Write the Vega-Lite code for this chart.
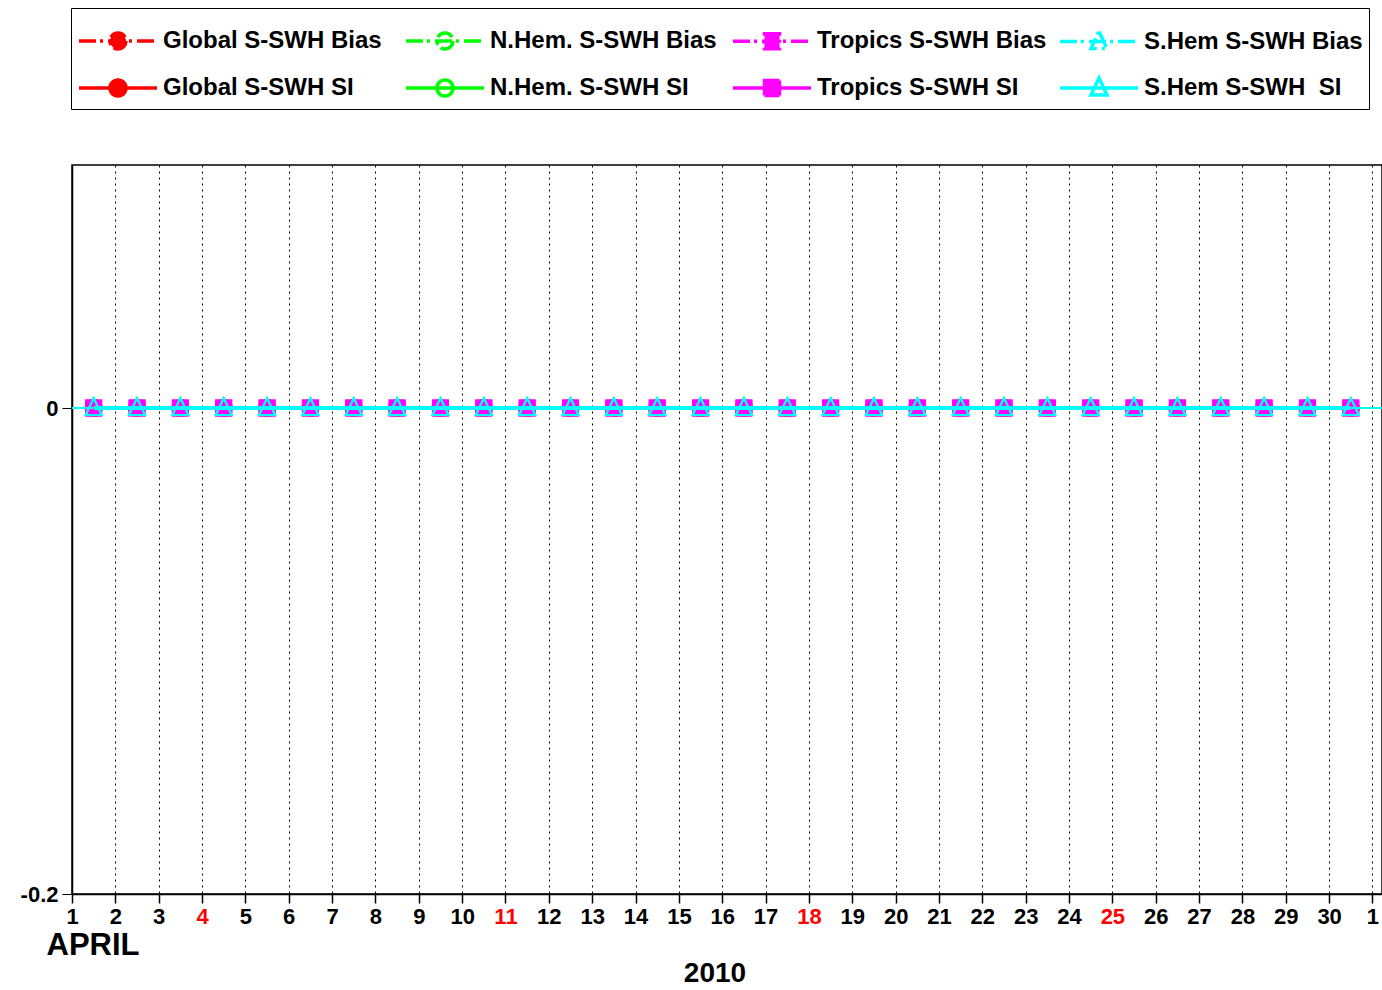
{
"$schema": "https://vega.github.io/schema/vega-lite/v6.json",
"width": 1310,
"height": 729,
"autosize": {"type": "none"},
"padding": {"left": 72, "top": 165, "right": 0, "bottom": 96},
"background": "white",
"config": {
  "font": "Liberation Sans",
  "view": {"stroke": "black", "strokeWidth": 1.5}
},
"title": {"text": "2010", "orient": "bottom", "frame": "group", "anchor": "middle", "offset": 0, "dx": -12, "fontSize": 28, "fontWeight": "bold", "color": "black", "font": "Liberation Sans"},
"data": {"values": [
{"series":"Global S-SWH Bias","day":1.5,"value":0},{"series":"Global S-SWH Bias","day":2.5,"value":0},{"series":"Global S-SWH Bias","day":3.5,"value":0},{"series":"Global S-SWH Bias","day":4.5,"value":0},{"series":"Global S-SWH Bias","day":5.5,"value":0},{"series":"Global S-SWH Bias","day":6.5,"value":0},{"series":"Global S-SWH Bias","day":7.5,"value":0},{"series":"Global S-SWH Bias","day":8.5,"value":0},{"series":"Global S-SWH Bias","day":9.5,"value":0},{"series":"Global S-SWH Bias","day":10.5,"value":0},{"series":"Global S-SWH Bias","day":11.5,"value":0},{"series":"Global S-SWH Bias","day":12.5,"value":0},{"series":"Global S-SWH Bias","day":13.5,"value":0},{"series":"Global S-SWH Bias","day":14.5,"value":0},{"series":"Global S-SWH Bias","day":15.5,"value":0},{"series":"Global S-SWH Bias","day":16.5,"value":0},{"series":"Global S-SWH Bias","day":17.5,"value":0},{"series":"Global S-SWH Bias","day":18.5,"value":0},{"series":"Global S-SWH Bias","day":19.5,"value":0},{"series":"Global S-SWH Bias","day":20.5,"value":0},{"series":"Global S-SWH Bias","day":21.5,"value":0},{"series":"Global S-SWH Bias","day":22.5,"value":0},{"series":"Global S-SWH Bias","day":23.5,"value":0},{"series":"Global S-SWH Bias","day":24.5,"value":0},{"series":"Global S-SWH Bias","day":25.5,"value":0},{"series":"Global S-SWH Bias","day":26.5,"value":0},{"series":"Global S-SWH Bias","day":27.5,"value":0},{"series":"Global S-SWH Bias","day":28.5,"value":0},{"series":"Global S-SWH Bias","day":29.5,"value":0},{"series":"Global S-SWH Bias","day":30.5,"value":0},
{"series":"Global S-SWH SI","day":1.5,"value":0},{"series":"Global S-SWH SI","day":2.5,"value":0},{"series":"Global S-SWH SI","day":3.5,"value":0},{"series":"Global S-SWH SI","day":4.5,"value":0},{"series":"Global S-SWH SI","day":5.5,"value":0},{"series":"Global S-SWH SI","day":6.5,"value":0},{"series":"Global S-SWH SI","day":7.5,"value":0},{"series":"Global S-SWH SI","day":8.5,"value":0},{"series":"Global S-SWH SI","day":9.5,"value":0},{"series":"Global S-SWH SI","day":10.5,"value":0},{"series":"Global S-SWH SI","day":11.5,"value":0},{"series":"Global S-SWH SI","day":12.5,"value":0},{"series":"Global S-SWH SI","day":13.5,"value":0},{"series":"Global S-SWH SI","day":14.5,"value":0},{"series":"Global S-SWH SI","day":15.5,"value":0},{"series":"Global S-SWH SI","day":16.5,"value":0},{"series":"Global S-SWH SI","day":17.5,"value":0},{"series":"Global S-SWH SI","day":18.5,"value":0},{"series":"Global S-SWH SI","day":19.5,"value":0},{"series":"Global S-SWH SI","day":20.5,"value":0},{"series":"Global S-SWH SI","day":21.5,"value":0},{"series":"Global S-SWH SI","day":22.5,"value":0},{"series":"Global S-SWH SI","day":23.5,"value":0},{"series":"Global S-SWH SI","day":24.5,"value":0},{"series":"Global S-SWH SI","day":25.5,"value":0},{"series":"Global S-SWH SI","day":26.5,"value":0},{"series":"Global S-SWH SI","day":27.5,"value":0},{"series":"Global S-SWH SI","day":28.5,"value":0},{"series":"Global S-SWH SI","day":29.5,"value":0},{"series":"Global S-SWH SI","day":30.5,"value":0},
{"series":"N.Hem. S-SWH Bias","day":1.5,"value":0},{"series":"N.Hem. S-SWH Bias","day":2.5,"value":0},{"series":"N.Hem. S-SWH Bias","day":3.5,"value":0},{"series":"N.Hem. S-SWH Bias","day":4.5,"value":0},{"series":"N.Hem. S-SWH Bias","day":5.5,"value":0},{"series":"N.Hem. S-SWH Bias","day":6.5,"value":0},{"series":"N.Hem. S-SWH Bias","day":7.5,"value":0},{"series":"N.Hem. S-SWH Bias","day":8.5,"value":0},{"series":"N.Hem. S-SWH Bias","day":9.5,"value":0},{"series":"N.Hem. S-SWH Bias","day":10.5,"value":0},{"series":"N.Hem. S-SWH Bias","day":11.5,"value":0},{"series":"N.Hem. S-SWH Bias","day":12.5,"value":0},{"series":"N.Hem. S-SWH Bias","day":13.5,"value":0},{"series":"N.Hem. S-SWH Bias","day":14.5,"value":0},{"series":"N.Hem. S-SWH Bias","day":15.5,"value":0},{"series":"N.Hem. S-SWH Bias","day":16.5,"value":0},{"series":"N.Hem. S-SWH Bias","day":17.5,"value":0},{"series":"N.Hem. S-SWH Bias","day":18.5,"value":0},{"series":"N.Hem. S-SWH Bias","day":19.5,"value":0},{"series":"N.Hem. S-SWH Bias","day":20.5,"value":0},{"series":"N.Hem. S-SWH Bias","day":21.5,"value":0},{"series":"N.Hem. S-SWH Bias","day":22.5,"value":0},{"series":"N.Hem. S-SWH Bias","day":23.5,"value":0},{"series":"N.Hem. S-SWH Bias","day":24.5,"value":0},{"series":"N.Hem. S-SWH Bias","day":25.5,"value":0},{"series":"N.Hem. S-SWH Bias","day":26.5,"value":0},{"series":"N.Hem. S-SWH Bias","day":27.5,"value":0},{"series":"N.Hem. S-SWH Bias","day":28.5,"value":0},{"series":"N.Hem. S-SWH Bias","day":29.5,"value":0},{"series":"N.Hem. S-SWH Bias","day":30.5,"value":0},
{"series":"N.Hem. S-SWH SI","day":1.5,"value":0},{"series":"N.Hem. S-SWH SI","day":2.5,"value":0},{"series":"N.Hem. S-SWH SI","day":3.5,"value":0},{"series":"N.Hem. S-SWH SI","day":4.5,"value":0},{"series":"N.Hem. S-SWH SI","day":5.5,"value":0},{"series":"N.Hem. S-SWH SI","day":6.5,"value":0},{"series":"N.Hem. S-SWH SI","day":7.5,"value":0},{"series":"N.Hem. S-SWH SI","day":8.5,"value":0},{"series":"N.Hem. S-SWH SI","day":9.5,"value":0},{"series":"N.Hem. S-SWH SI","day":10.5,"value":0},{"series":"N.Hem. S-SWH SI","day":11.5,"value":0},{"series":"N.Hem. S-SWH SI","day":12.5,"value":0},{"series":"N.Hem. S-SWH SI","day":13.5,"value":0},{"series":"N.Hem. S-SWH SI","day":14.5,"value":0},{"series":"N.Hem. S-SWH SI","day":15.5,"value":0},{"series":"N.Hem. S-SWH SI","day":16.5,"value":0},{"series":"N.Hem. S-SWH SI","day":17.5,"value":0},{"series":"N.Hem. S-SWH SI","day":18.5,"value":0},{"series":"N.Hem. S-SWH SI","day":19.5,"value":0},{"series":"N.Hem. S-SWH SI","day":20.5,"value":0},{"series":"N.Hem. S-SWH SI","day":21.5,"value":0},{"series":"N.Hem. S-SWH SI","day":22.5,"value":0},{"series":"N.Hem. S-SWH SI","day":23.5,"value":0},{"series":"N.Hem. S-SWH SI","day":24.5,"value":0},{"series":"N.Hem. S-SWH SI","day":25.5,"value":0},{"series":"N.Hem. S-SWH SI","day":26.5,"value":0},{"series":"N.Hem. S-SWH SI","day":27.5,"value":0},{"series":"N.Hem. S-SWH SI","day":28.5,"value":0},{"series":"N.Hem. S-SWH SI","day":29.5,"value":0},{"series":"N.Hem. S-SWH SI","day":30.5,"value":0},
{"series":"Tropics S-SWH Bias","day":1.5,"value":0},{"series":"Tropics S-SWH Bias","day":2.5,"value":0},{"series":"Tropics S-SWH Bias","day":3.5,"value":0},{"series":"Tropics S-SWH Bias","day":4.5,"value":0},{"series":"Tropics S-SWH Bias","day":5.5,"value":0},{"series":"Tropics S-SWH Bias","day":6.5,"value":0},{"series":"Tropics S-SWH Bias","day":7.5,"value":0},{"series":"Tropics S-SWH Bias","day":8.5,"value":0},{"series":"Tropics S-SWH Bias","day":9.5,"value":0},{"series":"Tropics S-SWH Bias","day":10.5,"value":0},{"series":"Tropics S-SWH Bias","day":11.5,"value":0},{"series":"Tropics S-SWH Bias","day":12.5,"value":0},{"series":"Tropics S-SWH Bias","day":13.5,"value":0},{"series":"Tropics S-SWH Bias","day":14.5,"value":0},{"series":"Tropics S-SWH Bias","day":15.5,"value":0},{"series":"Tropics S-SWH Bias","day":16.5,"value":0},{"series":"Tropics S-SWH Bias","day":17.5,"value":0},{"series":"Tropics S-SWH Bias","day":18.5,"value":0},{"series":"Tropics S-SWH Bias","day":19.5,"value":0},{"series":"Tropics S-SWH Bias","day":20.5,"value":0},{"series":"Tropics S-SWH Bias","day":21.5,"value":0},{"series":"Tropics S-SWH Bias","day":22.5,"value":0},{"series":"Tropics S-SWH Bias","day":23.5,"value":0},{"series":"Tropics S-SWH Bias","day":24.5,"value":0},{"series":"Tropics S-SWH Bias","day":25.5,"value":0},{"series":"Tropics S-SWH Bias","day":26.5,"value":0},{"series":"Tropics S-SWH Bias","day":27.5,"value":0},{"series":"Tropics S-SWH Bias","day":28.5,"value":0},{"series":"Tropics S-SWH Bias","day":29.5,"value":0},{"series":"Tropics S-SWH Bias","day":30.5,"value":0},
{"series":"Tropics S-SWH SI","day":1.5,"value":0},{"series":"Tropics S-SWH SI","day":2.5,"value":0},{"series":"Tropics S-SWH SI","day":3.5,"value":0},{"series":"Tropics S-SWH SI","day":4.5,"value":0},{"series":"Tropics S-SWH SI","day":5.5,"value":0},{"series":"Tropics S-SWH SI","day":6.5,"value":0},{"series":"Tropics S-SWH SI","day":7.5,"value":0},{"series":"Tropics S-SWH SI","day":8.5,"value":0},{"series":"Tropics S-SWH SI","day":9.5,"value":0},{"series":"Tropics S-SWH SI","day":10.5,"value":0},{"series":"Tropics S-SWH SI","day":11.5,"value":0},{"series":"Tropics S-SWH SI","day":12.5,"value":0},{"series":"Tropics S-SWH SI","day":13.5,"value":0},{"series":"Tropics S-SWH SI","day":14.5,"value":0},{"series":"Tropics S-SWH SI","day":15.5,"value":0},{"series":"Tropics S-SWH SI","day":16.5,"value":0},{"series":"Tropics S-SWH SI","day":17.5,"value":0},{"series":"Tropics S-SWH SI","day":18.5,"value":0},{"series":"Tropics S-SWH SI","day":19.5,"value":0},{"series":"Tropics S-SWH SI","day":20.5,"value":0},{"series":"Tropics S-SWH SI","day":21.5,"value":0},{"series":"Tropics S-SWH SI","day":22.5,"value":0},{"series":"Tropics S-SWH SI","day":23.5,"value":0},{"series":"Tropics S-SWH SI","day":24.5,"value":0},{"series":"Tropics S-SWH SI","day":25.5,"value":0},{"series":"Tropics S-SWH SI","day":26.5,"value":0},{"series":"Tropics S-SWH SI","day":27.5,"value":0},{"series":"Tropics S-SWH SI","day":28.5,"value":0},{"series":"Tropics S-SWH SI","day":29.5,"value":0},{"series":"Tropics S-SWH SI","day":30.5,"value":0},
{"series":"S.Hem S-SWH Bias","day":1.5,"value":0},{"series":"S.Hem S-SWH Bias","day":2.5,"value":0},{"series":"S.Hem S-SWH Bias","day":3.5,"value":0},{"series":"S.Hem S-SWH Bias","day":4.5,"value":0},{"series":"S.Hem S-SWH Bias","day":5.5,"value":0},{"series":"S.Hem S-SWH Bias","day":6.5,"value":0},{"series":"S.Hem S-SWH Bias","day":7.5,"value":0},{"series":"S.Hem S-SWH Bias","day":8.5,"value":0},{"series":"S.Hem S-SWH Bias","day":9.5,"value":0},{"series":"S.Hem S-SWH Bias","day":10.5,"value":0},{"series":"S.Hem S-SWH Bias","day":11.5,"value":0},{"series":"S.Hem S-SWH Bias","day":12.5,"value":0},{"series":"S.Hem S-SWH Bias","day":13.5,"value":0},{"series":"S.Hem S-SWH Bias","day":14.5,"value":0},{"series":"S.Hem S-SWH Bias","day":15.5,"value":0},{"series":"S.Hem S-SWH Bias","day":16.5,"value":0},{"series":"S.Hem S-SWH Bias","day":17.5,"value":0},{"series":"S.Hem S-SWH Bias","day":18.5,"value":0},{"series":"S.Hem S-SWH Bias","day":19.5,"value":0},{"series":"S.Hem S-SWH Bias","day":20.5,"value":0},{"series":"S.Hem S-SWH Bias","day":21.5,"value":0},{"series":"S.Hem S-SWH Bias","day":22.5,"value":0},{"series":"S.Hem S-SWH Bias","day":23.5,"value":0},{"series":"S.Hem S-SWH Bias","day":24.5,"value":0},{"series":"S.Hem S-SWH Bias","day":25.5,"value":0},{"series":"S.Hem S-SWH Bias","day":26.5,"value":0},{"series":"S.Hem S-SWH Bias","day":27.5,"value":0},{"series":"S.Hem S-SWH Bias","day":28.5,"value":0},{"series":"S.Hem S-SWH Bias","day":29.5,"value":0},{"series":"S.Hem S-SWH Bias","day":30.5,"value":0},
{"series":"S.Hem S-SWH  SI","day":1.5,"value":0},{"series":"S.Hem S-SWH  SI","day":2.5,"value":0},{"series":"S.Hem S-SWH  SI","day":3.5,"value":0},{"series":"S.Hem S-SWH  SI","day":4.5,"value":0},{"series":"S.Hem S-SWH  SI","day":5.5,"value":0},{"series":"S.Hem S-SWH  SI","day":6.5,"value":0},{"series":"S.Hem S-SWH  SI","day":7.5,"value":0},{"series":"S.Hem S-SWH  SI","day":8.5,"value":0},{"series":"S.Hem S-SWH  SI","day":9.5,"value":0},{"series":"S.Hem S-SWH  SI","day":10.5,"value":0},{"series":"S.Hem S-SWH  SI","day":11.5,"value":0},{"series":"S.Hem S-SWH  SI","day":12.5,"value":0},{"series":"S.Hem S-SWH  SI","day":13.5,"value":0},{"series":"S.Hem S-SWH  SI","day":14.5,"value":0},{"series":"S.Hem S-SWH  SI","day":15.5,"value":0},{"series":"S.Hem S-SWH  SI","day":16.5,"value":0},{"series":"S.Hem S-SWH  SI","day":17.5,"value":0},{"series":"S.Hem S-SWH  SI","day":18.5,"value":0},{"series":"S.Hem S-SWH  SI","day":19.5,"value":0},{"series":"S.Hem S-SWH  SI","day":20.5,"value":0},{"series":"S.Hem S-SWH  SI","day":21.5,"value":0},{"series":"S.Hem S-SWH  SI","day":22.5,"value":0},{"series":"S.Hem S-SWH  SI","day":23.5,"value":0},{"series":"S.Hem S-SWH  SI","day":24.5,"value":0},{"series":"S.Hem S-SWH  SI","day":25.5,"value":0},{"series":"S.Hem S-SWH  SI","day":26.5,"value":0},{"series":"S.Hem S-SWH  SI","day":27.5,"value":0},{"series":"S.Hem S-SWH  SI","day":28.5,"value":0},{"series":"S.Hem S-SWH  SI","day":29.5,"value":0},{"series":"S.Hem S-SWH  SI","day":30.5,"value":0}
]},
"encoding": {
  "x": {"field": "day", "type": "quantitative",
    "scale": {"domain": [1, 31.22], "nice": false, "zero": false},
    "axis": {
      "values": [1,2,3,4,5,6,7,8,9,10,11,12,13,14,15,16,17,18,19,20,21,22,23,24,25,26,27,28,29,30,31],
      "labelExpr": "datum.value > 30 ? '1' : datum.label",
      "labelColor": {"condition": {"test": "indexof([4,11,18,25], datum.value) >= 0", "value": "#ff0000"}, "value": "black"},
      "labelFontSize": 22, "labelFontWeight": "bold", "labelFont": "Liberation Sans", "labelPadding": 3,
      "labelFlush": false, "labelOverlap": false,
      "tickSize": 9, "tickColor": "black", "tickWidth": 1.5,
      "domainColor": "black", "domainWidth": 1.5,
      "grid": true, "gridColor": "black", "gridDash": [2, 4], "gridWidth": 1, "gridOpacity": 1,
      "title": "APRIL", "titleFontSize": 31, "titleFontWeight": "bold", "titleFont": "Liberation Sans", "titleColor": "black",
      "titleAnchor": "start", "titleAlign": "left", "titleBaseline": "alphabetic", "titleX": -26, "titleY": 60
    }
  },
  "y": {"field": "value", "type": "quantitative",
    "scale": {"domain": [-0.2, 0.1], "nice": false, "zero": false},
    "axis": {
      "values": [-0.2, 0],
      "labelExpr": "toString(datum.value)",
      "labelFontSize": 22, "labelFontWeight": "bold", "labelFont": "Liberation Sans", "labelColor": "black", "labelPadding": 4,
      "labelFlush": false,
      "tickSize": 10, "tickColor": "black", "tickWidth": 1,
      "domainColor": "black", "domainWidth": 1.5,
      "grid": true, "gridColor": "black", "gridDash": [8, 4], "gridWidth": 1, "gridOpacity": 1,
      "title": null
    }
  }
},
"layer": [
  {"mark": {"type": "point", "filled": false, "size": 2500, "strokeWidth": 2, "opacity": 1, "clip": true},
   "encoding": {
     "color": {"field": "series", "type": "nominal",
       "scale": {"domain": ["Global S-SWH Bias","N.Hem. S-SWH Bias","Tropics S-SWH Bias","S.Hem S-SWH Bias","Global S-SWH SI","N.Hem. S-SWH SI","Tropics S-SWH SI","S.Hem S-SWH  SI"],
                 "range": ["#ff0000","#00ff00","#ff00ff","#00ffff","#ff0000","#00ff00","#ff00ff","#00ffff"]},
       "legend": {
         "orient": "none", "legendX": -1, "legendY": -157, "direction": "horizontal", "columns": 4, "title": null,
         "gridAlign": "all", "columnPadding": 6, "rowPadding": 5, "padding": 6,
         "strokeColor": "black", "fillColor": "white",
         "symbolSize": 2500, "symbolOffset": 14, "labelOffset": 18, "symbolStrokeWidth": 3.5, "symbolOpacity": 1,
         "labelFont": "Liberation Sans", "labelFontWeight": "bold", "labelFontSize": 24, "labelColor": "black", "labelLimit": 400,
         "labelExpr": "replace(datum.label, '  ', '\u00a0 ')"
       }
     },
     "fill": {"field": "series", "type": "nominal",
       "scale": {"domain": ["Global S-SWH Bias","N.Hem. S-SWH Bias","Tropics S-SWH Bias","S.Hem S-SWH Bias","Global S-SWH SI","N.Hem. S-SWH SI","Tropics S-SWH SI","S.Hem S-SWH  SI"],
                 "range": ["#ff0000","transparent","#ff00ff","transparent","#ff0000","transparent","#ff00ff","transparent"]}},
     "shape": {"field": "series", "type": "nominal",
       "scale": {"domain": ["Global S-SWH Bias","N.Hem. S-SWH Bias","Tropics S-SWH Bias","S.Hem S-SWH Bias","Global S-SWH SI","N.Hem. S-SWH SI","Tropics S-SWH SI","S.Hem S-SWH  SI"],
                 "range": [
                   "M-1.56,0H1.56M0.32,0A0.32,0.32 0 1,1 -0.32,0A0.32,0.32 0 1,1 0.32,0Z",
                   "M-1.56,0H1.56M0.32,0A0.32,0.32 0 1,1 -0.32,0A0.32,0.32 0 1,1 0.32,0Z",
                   "M-1.56,0H1.56M-0.3,-0.3H0.3V0.3H-0.3Z",
                   "M-1.56,0H1.56M0,-0.4L0.32,0.28H-0.32Z",
                   "M-1.56,0H1.56M0.32,0A0.32,0.32 0 1,1 -0.32,0A0.32,0.32 0 1,1 0.32,0Z",
                   "M-1.56,0H1.56M0.32,0A0.32,0.32 0 1,1 -0.32,0A0.32,0.32 0 1,1 0.32,0Z",
                   "M-1.56,0H1.56M-0.3,-0.3H0.3V0.3H-0.3Z",
                   "M-1.56,0H1.56M0,-0.4L0.32,0.28H-0.32Z"]}}
   }
  },
  {"transform": [{"filter": {"field": "series", "oneOf": ["Global S-SWH Bias", "N.Hem. S-SWH Bias", "Tropics S-SWH Bias", "S.Hem S-SWH Bias"]}}],
   "mark": {"type": "line", "strokeWidth": 3},
   "encoding": {
     "color": {"field": "series", "type": "nominal",
       "scale": {"domain": ["Global S-SWH Bias","N.Hem. S-SWH Bias","Tropics S-SWH Bias","S.Hem S-SWH Bias","Global S-SWH SI","N.Hem. S-SWH SI","Tropics S-SWH SI","S.Hem S-SWH  SI"],
                 "range": ["#ff0000","#00ff00","#ff00ff","#00ffff","#ff0000","#00ff00","#ff00ff","#00ffff"]}},
     "strokeDash": {"field": "series", "type": "nominal",
       "scale": {"domain": ["Global S-SWH Bias","N.Hem. S-SWH Bias","Tropics S-SWH Bias","S.Hem S-SWH Bias","Global S-SWH SI","N.Hem. S-SWH SI","Tropics S-SWH SI","S.Hem S-SWH  SI"],
                 "range": [[17,4,3,5],[17,4,3,5],[17,4,3,5],[17,4,3,5],[1,0],[1,0],[1,0],[1,0]]}}
   }
  },
  {"transform": [{"filter": {"field": "series", "oneOf": ["Global S-SWH SI", "N.Hem. S-SWH SI", "Tropics S-SWH SI", "S.Hem S-SWH  SI"]}}],
   "mark": {"type": "line", "strokeWidth": 4},
   "encoding": {
     "color": {"field": "series", "type": "nominal",
       "scale": {"domain": ["Global S-SWH Bias","N.Hem. S-SWH Bias","Tropics S-SWH Bias","S.Hem S-SWH Bias","Global S-SWH SI","N.Hem. S-SWH SI","Tropics S-SWH SI","S.Hem S-SWH  SI"],
                 "range": ["#ff0000","#00ff00","#ff00ff","#00ffff","#ff0000","#00ff00","#ff00ff","#00ffff"]}},
     "strokeDash": {"field": "series", "type": "nominal",
       "scale": {"domain": ["Global S-SWH Bias","N.Hem. S-SWH Bias","Tropics S-SWH Bias","S.Hem S-SWH Bias","Global S-SWH SI","N.Hem. S-SWH SI","Tropics S-SWH SI","S.Hem S-SWH  SI"],
                 "range": [[17,4,3,5],[17,4,3,5],[17,4,3,5],[17,4,3,5],[1,0],[1,0],[1,0],[1,0]]}}
   }
  }
]
}
